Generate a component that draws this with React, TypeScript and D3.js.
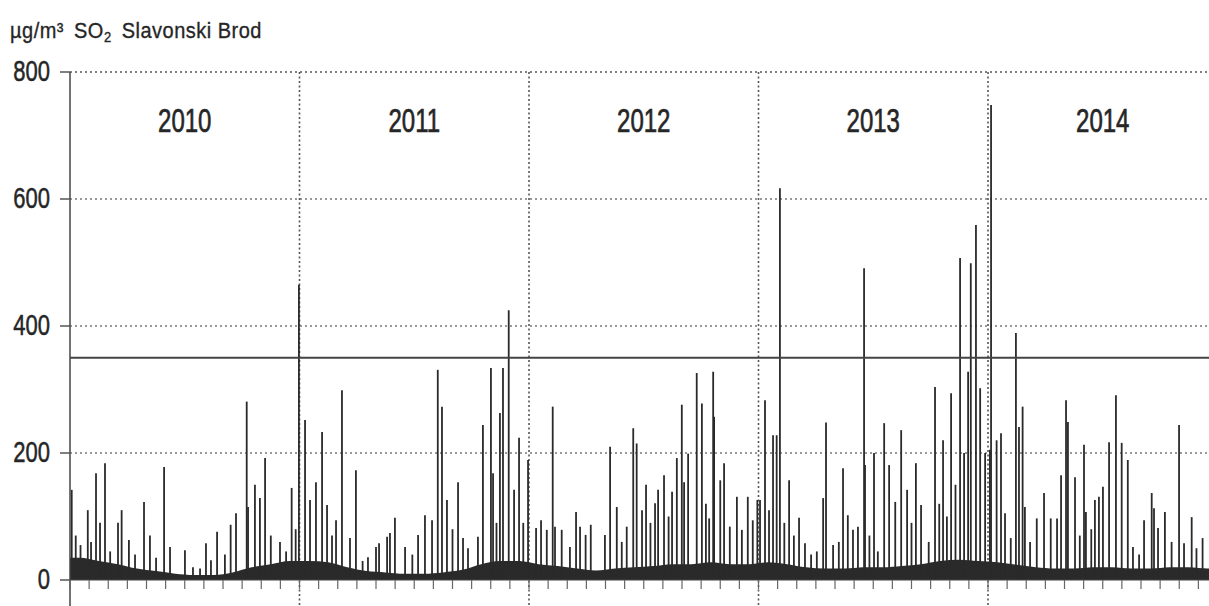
import * as d3 from "d3";

const years = [2010, 2011, 2012, 2013, 2014];
const yTicks = [0, 200, 400, 600, 800];
const limitValue = 350;

// peaks: [month of year (decimal), µg/m³]
const peaks2010 = [
  [0.09, 142], [0.3, 70], [0.55, 55], [0.93, 110], [1.1, 60], [1.36, 168], [1.57, 90],
  [1.83, 184], [2.1, 45], [2.51, 90], [2.7, 110], [3.08, 63], [3.4, 40], [3.87, 123],
  [4.18, 70], [4.5, 35], [4.92, 178], [5.23, 52], [6.01, 47], [6.43, 20], [6.8, 18],
  [7.11, 58], [7.37, 31], [7.69, 76], [8.1, 40], [8.4, 87], [8.68, 105], [9.24, 281],
  [9.31, 115], [9.67, 150], [9.93, 129], [10.2, 192], [10.5, 70], [10.98, 60],
  [11.3, 45], [11.59, 145], [11.8, 80], [11.97, 465],
];
const peaks2011 = [
  [0.29, 252], [0.55, 126], [0.86, 154], [1.18, 233], [1.44, 118], [1.7, 70], [1.91, 94],
  [2.22, 299], [2.64, 66], [2.95, 173], [3.3, 30], [3.58, 36], [4.0, 52], [4.16, 58],
  [4.58, 68], [4.73, 74], [4.99, 98], [5.52, 52], [5.9, 40], [6.2, 71], [6.56, 102],
  [6.93, 94], [7.23, 331], [7.45, 273], [7.71, 126], [8.0, 80], [8.29, 154], [8.55, 66],
  [8.81, 50], [9.33, 68], [9.59, 244], [10.01, 334], [10.12, 168], [10.3, 90],
  [10.48, 263], [10.64, 334], [10.94, 425], [11.22, 142], [11.48, 224], [11.7, 90],
  [11.95, 189],
];
const peaks2012 = [
  [0.37, 82], [0.63, 94], [0.93, 79], [1.24, 273], [1.36, 84], [1.71, 79], [2.14, 52],
  [2.46, 107], [2.67, 84], [2.96, 71], [3.23, 87], [3.97, 71], [4.24, 210], [4.59, 115],
  [4.85, 60], [5.11, 84], [5.45, 239], [5.63, 215], [5.91, 110], [6.12, 150], [6.35, 90],
  [6.59, 121], [6.75, 142], [7.06, 165], [7.3, 100], [7.48, 139], [7.73, 192],
  [7.99, 276], [8.11, 154], [8.32, 199], [8.77, 326], [9.04, 278], [9.25, 120],
  [9.42, 97], [9.63, 328], [9.68, 257], [10.0, 157], [10.2, 184], [10.5, 84],
  [10.87, 131], [11.13, 79], [11.44, 131], [11.7, 94], [11.94, 126],
];
const peaks2013 = [
  [0.08, 126], [0.34, 283], [0.55, 110], [0.76, 228], [0.95, 228], [1.12, 617],
  [1.35, 90], [1.6, 157], [1.85, 70], [2.12, 98], [2.43, 58], [2.75, 40], [3.05, 45],
  [3.38, 129], [3.53, 248], [3.9, 55], [4.2, 60], [4.42, 176], [4.67, 102], [4.94, 79],
  [5.2, 84], [5.52, 491], [5.57, 181], [5.8, 70], [6.04, 200], [6.24, 45], [6.57, 247],
  [6.83, 181], [7.15, 123], [7.46, 236], [7.77, 142], [8.0, 90], [8.23, 184],
  [8.5, 118], [8.9, 60], [9.23, 304], [9.45, 120], [9.65, 220], [9.85, 100],
  [10.07, 294], [10.3, 150], [10.54, 507], [10.75, 200], [10.96, 328], [11.1, 499],
  [11.37, 559], [11.59, 302], [11.85, 200],
];
const peaks2014 = [
  [0.1, 205], [0.16, 748], [0.45, 220], [0.68, 231], [0.89, 105], [1.19, 66], [1.46, 389],
  [1.62, 241], [1.81, 273], [1.93, 115], [2.2, 60], [2.55, 97], [2.93, 137], [3.28, 97],
  [3.61, 97], [3.82, 165], [4.08, 283], [4.18, 249], [4.55, 162], [4.8, 70], [5.02, 213],
  [5.12, 107], [5.4, 80], [5.59, 126], [5.8, 131], [6.01, 147], [6.33, 217], [6.69, 291],
  [6.99, 216], [7.31, 189], [7.58, 52], [7.9, 40], [8.16, 94], [8.56, 137], [8.68, 113],
  [8.89, 82], [9.25, 107], [9.6, 60], [9.99, 244], [10.25, 58], [10.65, 99], [10.9, 50],
  [11.22, 66],
];

// typical background level per month (µg/m³)
const background2010 = [35, 30, 25, 18, 14, 10, 8, 8, 12, 20, 25, 30];
const background2011 = [30, 28, 20, 14, 12, 10, 10, 12, 16, 25, 30, 30];
const background2012 = [25, 22, 18, 15, 18, 20, 22, 25, 25, 28, 25, 25];
const background2013 = [28, 25, 20, 18, 18, 20, 20, 22, 25, 30, 32, 30];
const background2014 = [28, 24, 20, 18, 18, 20, 20, 18, 18, 20, 20, 18];

const peaksByYear = [peaks2010, peaks2011, peaks2012, peaks2013, peaks2014];
const backgroundByYear = [background2010, background2011, background2012, background2013, background2014];

const W = 1209;
const H = 606;

export default function App() {
  const x = d3.scaleLinear().domain([2010, 2015]).range([70, 70 + 5 * 229.5]);
  const y = d3.scaleLinear().domain([0, 800]).range([580, 72]);

  const spikes = peaksByYear.flatMap((arr, i) =>
    arr.map(([m, v]) => ({ t: years[i] + m / 12, v }))
  );
  const bgMid = backgroundByYear.flatMap((arr, i) =>
    arr.map((v, m) => ({ t: years[i] + (m + 0.5) / 12, v }))
  );
  const bg = [
    { t: 2010, v: bgMid[0].v },
    ...bgMid,
    { t: 2015, v: bgMid[bgMid.length - 1].v },
  ];
  const bgArea = d3
    .area<{ t: number; v: number }>()
    .x((d) => x(d.t))
    .y0(y(0))
    .y1((d) => y(d.v))
    .curve(d3.curveMonotoneX);

  const months = d3.range(0, 60).map((i) => 2010 + i / 12);
  const textColor = "#262626";
  const font = "Arial, 'Liberation Sans', sans-serif";

  return (
    <svg
      width={W}
      height={H}
      style={{ position: "absolute", left: 0, top: 0, background: "#fff" }}
      fontFamily={font}
    >
      {/* title */}
      <g transform="translate(10,38) scale(1,1.1)" fill={textColor} stroke={textColor} strokeWidth={0.3} fontSize={20} letterSpacing={0.5}>
        <text x={0} y={0}>
          µg/m³
          <tspan dx={10}>SO</tspan>
          <tspan fontSize={13} dy={4}>2</tspan>
          <tspan dx={10} dy={-4}>Slavonski Brod</tspan>
        </text>
      </g>

      {/* horizontal grid */}
      {yTicks.filter((d) => d > 0).map((d) => (
        <line
          key={d}
          x1={70}
          x2={W}
          y1={y(d)}
          y2={y(d)}
          stroke={d === 800 ? "#555" : "#777"}
          strokeWidth={1.6}
          strokeDasharray="2,3"
        />
      ))}

      {/* year separators */}
      {years.slice(1).map((yr) => (
        <line
          key={yr}
          x1={x(yr)}
          x2={x(yr)}
          y1={y(800)}
          y2={H}
          stroke="#555"
          strokeWidth={1.6}
          strokeDasharray="2,2.5"
        />
      ))}

      {/* year labels */}
      {years.map((yr) => (
        <g key={yr} transform={`translate(${x(yr + 0.5)},132) scale(1,1.35)`}>
          <text textAnchor="middle" fontSize={24} fill={textColor} stroke={textColor} strokeWidth={0.5}>
            {yr}
          </text>
        </g>
      ))}

      {/* data */}
      <path d={bgArea(bg) || ""} fill="#2a2a2a" />
      {spikes.map((d, i) => (
        <line
          key={i}
          x1={x(d.t)}
          x2={x(d.t)}
          y1={y(0)}
          y2={y(d.v)}
          stroke="#2a2a2a"
          strokeWidth={1.8}
        />
      ))}

      {/* limit value */}
      <line x1={70} x2={W} y1={y(limitValue)} y2={y(limitValue)} stroke="#444" strokeWidth={2} />

      {/* y axis */}
      <line x1={70} x2={70} y1={y(800)} y2={H} stroke="#444" strokeWidth={1.5} />
      <line x1={70} x2={W} y1={y(0)} y2={y(0)} stroke="#444" strokeWidth={1.2} />
      {yTicks.map((d) => (
        <g key={d}>
          <line x1={60} x2={70} y1={y(d)} y2={y(d)} stroke="#555" strokeWidth={1.5} />
          <g transform={`translate(50,${y(d) + 9}) scale(1,1.3)`}>
            <text textAnchor="end" fontSize={22} fill={textColor} stroke={textColor} strokeWidth={0.4}>
              {d}
            </text>
          </g>
        </g>
      ))}

      {/* month ticks */}
      {months.map((t, i) => (
        <line
          key={i}
          x1={x(t)}
          x2={x(t)}
          y1={y(0)}
          y2={y(0) + 9}
          stroke="#666"
          strokeWidth={1.2}
        />
      ))}
    </svg>
  );
}
